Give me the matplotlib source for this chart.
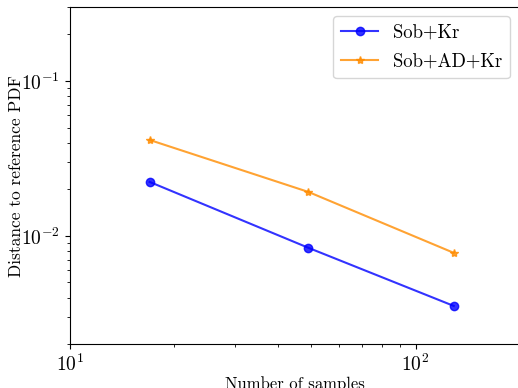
import matplotlib
matplotlib.use('Agg')
import numpy as np
import matplotlib.pyplot as plt

plt.rcParams['font.family'] = 'serif'
plt.rcParams['font.serif'] = ['cmr10']
plt.rcParams['mathtext.fontset'] = 'cm'
plt.rcParams['axes.unicode_minus'] = False
plt.rcParams['axes.formatter.use_mathtext'] = True

# data
n_samples = [17, 49, 129]
sob_kr = [0.0223, 0.00837, 0.00353]
sob_ad_kr = [0.0416, 0.0192, 0.00777]

fig = plt.figure(figsize=(5.18, 3.88), dpi=100)
ax = fig.add_axes([0.135, 0.113, 0.868, 0.869])
ax.loglog(n_samples, sob_kr, '-o', color='blue', lw=1.5, ms=6, alpha=0.8, label='Sob+Kr')
ax.loglog(n_samples, sob_ad_kr, '-*', color='darkorange', lw=1.5, ms=6, alpha=0.8, label='Sob+AD+Kr')
ax.set_xlim(10, 200)
ax.set_ylim(0.002, 0.3)
ax.tick_params(labelsize=14)
ax.set_xlabel('Number of samples', fontsize=12, labelpad=1)
ax.set_ylabel('Distance to reference PDF', fontsize=12.5, labelpad=-2)
ax.legend(fontsize=13.5, loc='upper right', labelspacing=0.6)

fig.savefig('out.png', dpi=100)
